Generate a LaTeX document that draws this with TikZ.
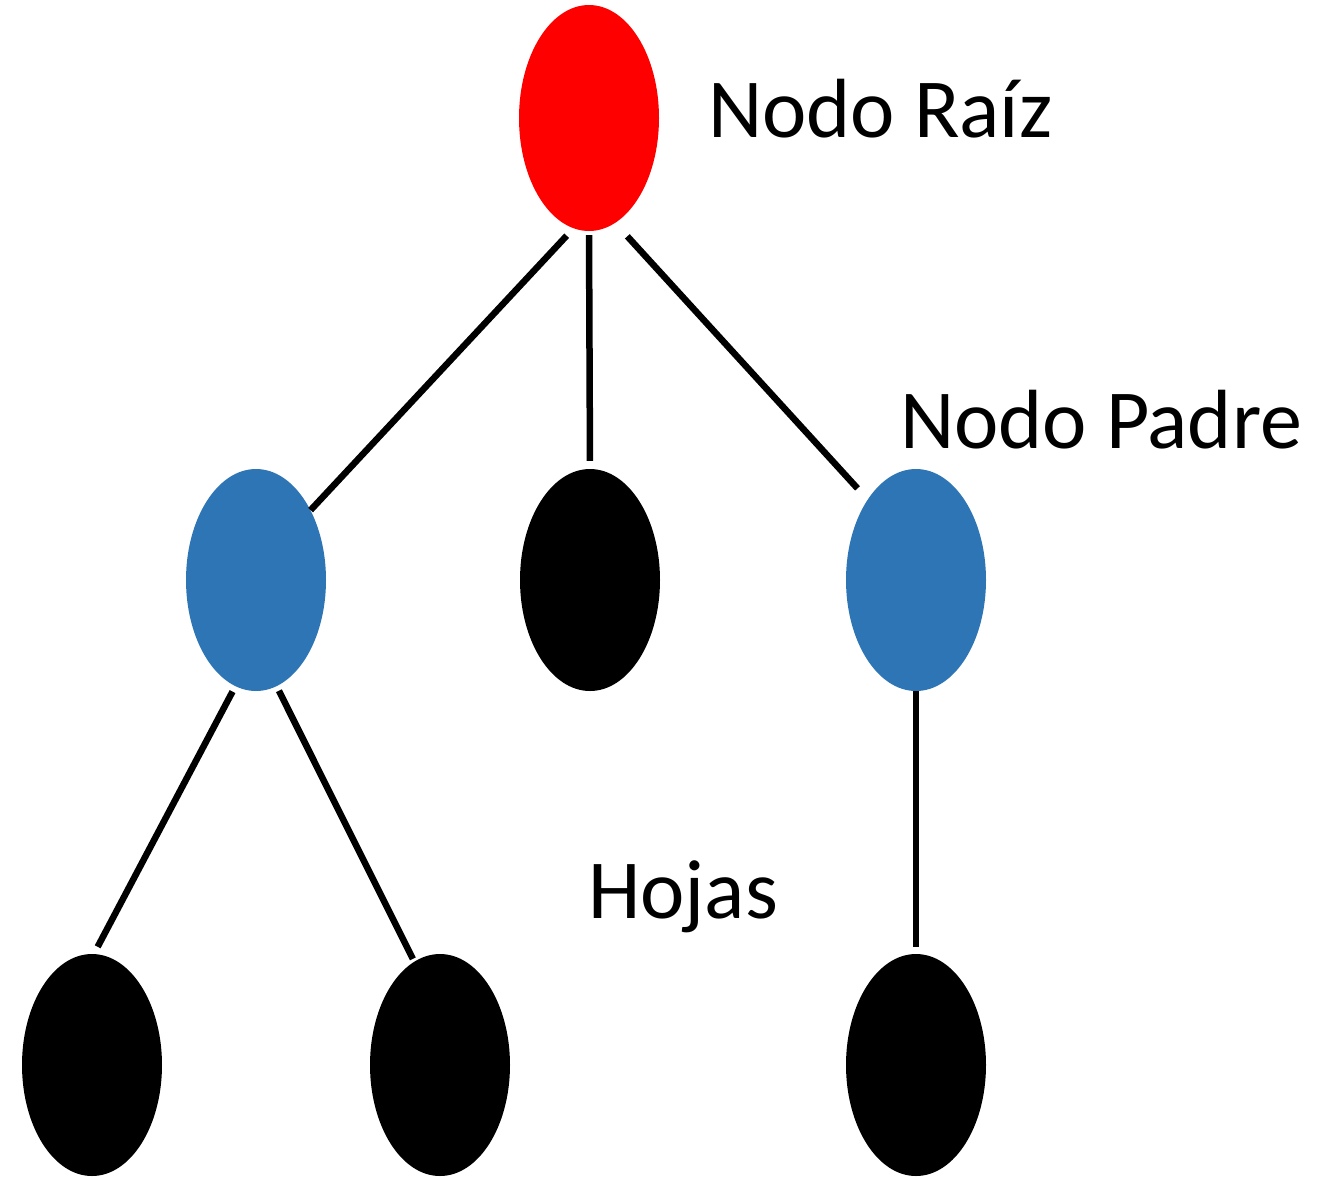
\documentclass[tikz,border=0pt]{standalone}
\usepackage{fontspec}
\setmainfont{Carlito}
\usetikzlibrary{shapes.geometric}
\definecolor{nodeblue}{HTML}{2E75B6}
\tikzset{
  treenode/.style={ellipse, inner sep=0pt, minimum width=140pt, minimum height=222pt, draw=none},
  edge/.style={line width=6.5pt, black},
  lbl/.style={anchor=base west, inner sep=0pt, font=\fontsize{84}{100}\selectfont}
}
\begin{document}
\begin{tikzpicture}[x=1pt, y=-1pt]
\useasboundingbox[fill=white] (0,0) rectangle (1320,1179);
% nodes
\node[treenode, fill=red, minimum height=226pt] (root) at (589,118) {};
\node[treenode, fill=nodeblue] (lb) at (256,580) {};
\node[treenode, fill=black] (mb) at (590,580) {};
\node[treenode, fill=nodeblue] (rb) at (916,580) {};
\node[treenode, fill=black] (bl) at (92,1065) {};
\node[treenode, fill=black] (bm) at (440,1065) {};
\node[treenode, fill=black] (br) at (916,1065) {};
% edges
\draw[edge, shorten <=10pt] (root.262) -- (lb.52);
\draw[edge, shorten <=4pt, shorten >=8pt] (root.south) -- (mb.north);
\draw[edge, shorten <=18pt, shorten >=15pt] (root.284) -- (rb.121);
\draw[edge, shorten <=6pt, shorten >=8pt] (lb.259) -- (bl.89);
\draw[edge, shorten <=5pt, shorten >=3pt] (lb.281) -- (bm.104);
\draw[edge, shorten >=7pt] (rb.south) -- (br.north);
% labels
\node[lbl] (lroot) at (708,137) {Nodo Raíz};
\node[lbl] (lpadre) at (900,448) {Nodo Padre};
\node[lbl] (lhojas) at (588,918) {Hojas};
\end{tikzpicture}
\end{document}
